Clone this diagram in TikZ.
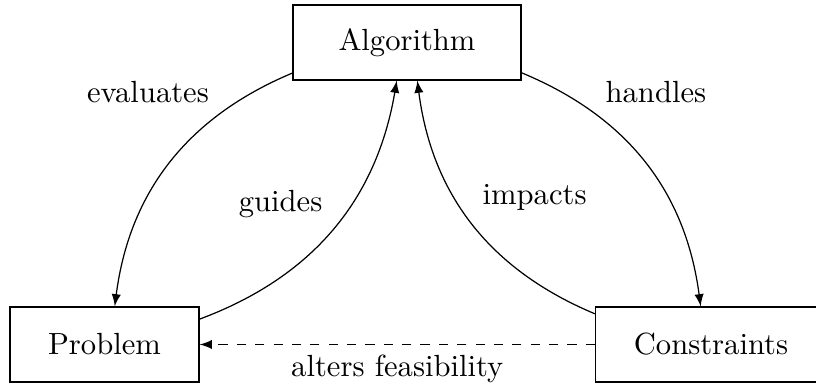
\documentclass[tikz,border=0pt]{standalone}
\usetikzlibrary{arrows}
\begin{document}
\begin{tikzpicture}[
  x=0.3268pt, y=-0.3268pt,
  box/.style={draw, rectangle, minimum height=24.5pt, inner sep=2pt},
  link/.style={-latex},
  lbl/.style={inner sep=3.33pt}
]
\useasboundingbox (0,0) rectangle (816,388);

% the three components
\node[box, minimum width=74.5pt] (alg)  at (407,42.5)   {Algorithm};
\node[box, minimum width=61.8pt] (prob) at (104.5,344.5) {Problem};
\node[box, minimum width=75.5pt] (cons) at (711,344.5)   {Constraints};

% relations between them
\draw[link] (alg)  to[bend right=30] node[lbl, pos=0.26, above left]  {evaluates} (prob);
\draw[link] (alg)  to[bend left=30]  node[lbl, pos=0.26, above right] {handles}   (cons);
\draw[link] (prob) to[bend right=30] node[lbl, midway, above left]    {guides}    (alg);
\draw[link] (cons) to[bend left=30]  node[lbl, midway, above right, yshift=0.7pt] {impacts} (alg);
\draw[link, dashed] (cons) -- node[lbl, below] {alters feasibility} (prob);
\end{tikzpicture}
\end{document}
